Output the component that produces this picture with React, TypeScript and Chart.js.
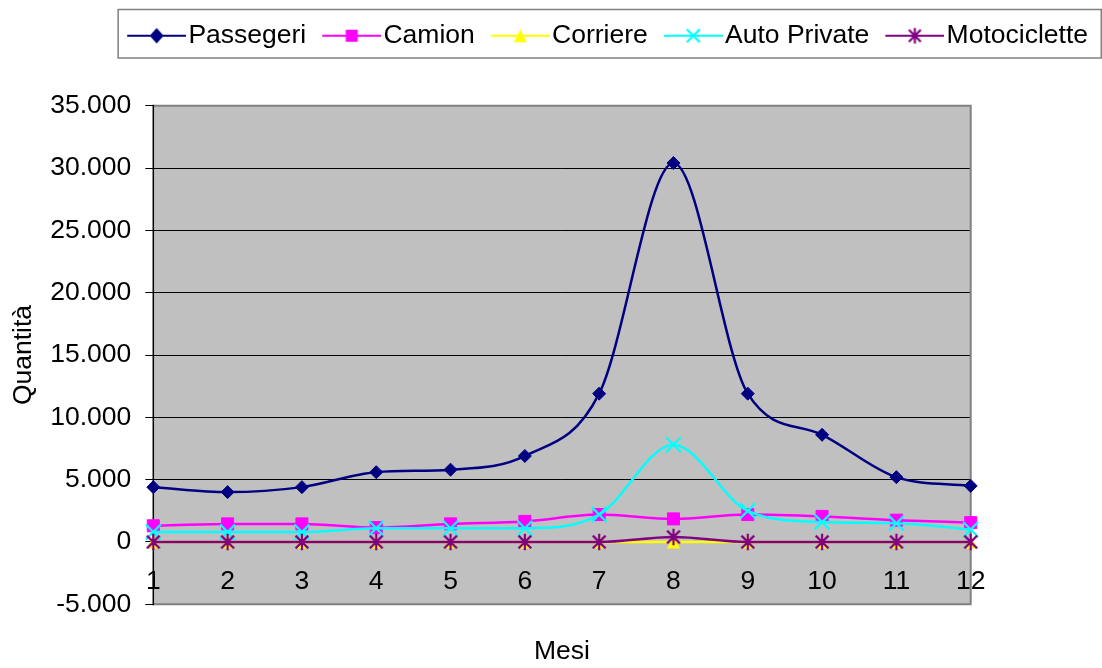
import { useEffect, useRef } from 'react';
import { Chart, registerables } from 'chart.js';

Chart.register(...registerables);

// Monthly traffic counts
const months = ['1', '2', '3', '4', '5', '6', '7', '8', '9', '10', '11', '12'];
const passegeri = [4400, 4000, 4400, 5600, 5800, 6900, 11900, 30400, 11900, 8600, 5200, 4500];
const camion = [1300, 1450, 1450, 1150, 1450, 1650, 2200, 1850, 2200, 2050, 1750, 1550];
const corriere = [0, 0, 0, 0, 0, 0, 0, 0, 0, 0, 0, 0];
const autoPrivate = [800, 800, 800, 1100, 1100, 1100, 2200, 7800, 2500, 1600, 1500, 1000];
const motociclette = [0, 0, 0, 0, 0, 0, 0, 400, 0, 0, 0, 0];

const seriesNames = ['Passegeri', 'Camion', 'Corriere', 'Auto Private', 'Motociclette'];
const yMin = -5000;
const yMax = 35000;
const yStep = 5000;
const yTitle = 'Quantità';
const xTitle = 'Mesi';

const FONT = '"Liberation Sans", Arial, Helvetica, sans-serif';
const TEXT_SIZE = 26.5;
const LEGEND_SIZE = 26.5;

type MarkerKind = 'diamond' | 'square' | 'triangle' | 'x' | 'asterisk';

function fmtThousands(v: number): string {
  const s = Math.abs(Math.round(v)).toString().replace(/\B(?=(\d{3})+(?!\d))/g, '.');
  return (v < 0 ? '-' : '') + s;
}

function drawMarker(ctx: CanvasRenderingContext2D, kind: MarkerKind, cx: number, cy: number, s: number, color: string) {
  ctx.save();
  ctx.fillStyle = color;
  ctx.strokeStyle = color;
  ctx.lineWidth = 2.2;
  ctx.beginPath();
  switch (kind) {
    case 'diamond':
      ctx.moveTo(cx, cy - s * 1.1);
      ctx.lineTo(cx + s, cy);
      ctx.lineTo(cx, cy + s * 1.1);
      ctx.lineTo(cx - s, cy);
      ctx.closePath();
      ctx.fill();
      break;
    case 'square':
      ctx.fillRect(cx - s, cy - s, 2 * s, 2 * s);
      break;
    case 'triangle':
      ctx.moveTo(cx, cy - s);
      ctx.lineTo(cx + s, cy + s);
      ctx.lineTo(cx - s, cy + s);
      ctx.closePath();
      ctx.fill();
      break;
    case 'x':
      ctx.moveTo(cx - s, cy - s);
      ctx.lineTo(cx + s, cy + s);
      ctx.moveTo(cx + s, cy - s);
      ctx.lineTo(cx - s, cy + s);
      ctx.stroke();
      break;
    case 'asterisk': {
      const d = s * 0.85;
      ctx.moveTo(cx - d, cy - d);
      ctx.lineTo(cx + d, cy + d);
      ctx.moveTo(cx + d, cy - d);
      ctx.lineTo(cx - d, cy + d);
      ctx.moveTo(cx, cy - s * 1.1);
      ctx.lineTo(cx, cy + s * 1.1);
      ctx.stroke();
      break;
    }
  }
  ctx.restore();
}

function markerImage(kind: MarkerKind, color: string, s: number): HTMLCanvasElement {
  const c = document.createElement('canvas');
  const size = Math.ceil(2 * s * 1.2) + 4;
  c.width = size;
  c.height = size;
  const ctx = c.getContext('2d')!;
  drawMarker(ctx, kind, size / 2, size / 2, s, color);
  return c;
}

function legendSymbol(kind: MarkerKind, color: string, s: number): HTMLCanvasElement {
  const c = document.createElement('canvas');
  c.width = 72;
  c.height = 22;
  const ctx = c.getContext('2d')!;
  ctx.strokeStyle = color;
  ctx.lineWidth = 2.2;
  ctx.beginPath();
  ctx.moveTo(13, 11);
  ctx.lineTo(72, 11);
  ctx.stroke();
  drawMarker(ctx, kind, 42.5, 11, s, color);
  return c;
}

const colors = ['#000080', '#FF00FF', '#FFFF00', '#00FFFF', '#800080'];
const legendKinds: MarkerKind[] = ['diamond', 'square', 'triangle', 'x', 'asterisk'];
const legendSizes = [7, 6, 6.5, 6.5, 7];

const plotFrame = {
  id: 'plotFrame',
  beforeDraw(chart: any) {
    const { ctx, chartArea: a } = chart;
    ctx.save();
    ctx.fillStyle = '#C0C0C0';
    ctx.fillRect(a.left, a.top, a.right - a.left, a.bottom - a.top);
    ctx.restore();
  },
  beforeDatasetsDraw(chart: any) {
    const { ctx, chartArea: a } = chart;
    ctx.save();
    ctx.strokeStyle = '#808080';
    ctx.lineWidth = 2;
    ctx.beginPath();
    ctx.moveTo(a.left, a.top);
    ctx.lineTo(a.right, a.top);
    ctx.lineTo(a.right, a.bottom);
    ctx.lineTo(a.left, a.bottom);
    ctx.stroke();
    ctx.strokeStyle = '#000';
    ctx.lineWidth = 1.5;
    ctx.beginPath();
    ctx.moveTo(a.left, a.top - 1);
    ctx.lineTo(a.left, a.bottom + 1);
    ctx.stroke();
    ctx.restore();
  },
  afterDraw(chart: any) {
    const lg = chart.legend;
    if (!lg || !lg.legendHitBoxes || !lg.legendHitBoxes.length) return;
    const { ctx } = chart;
    const left = lg.legendHitBoxes[0].left - 7;
    ctx.save();
    ctx.strokeStyle = '#808080';
    ctx.lineWidth = 1.5;
    ctx.strokeRect(left, 9.5, chart.width - 0.75 - left, 48.5);
    ctx.restore();
  },
};

export default function App() {
  const canvasRef = useRef<HTMLCanvasElement | null>(null);

  useEffect(() => {
    const canvas = canvasRef.current;
    if (!canvas) return;
    Chart.defaults.font.family = FONT;

    const font = { family: FONT, size: TEXT_SIZE };
    const triangleImg = markerImage('triangle', colors[2], 6.5);
    const asteriskImg = markerImage('asterisk', colors[4], 7.5);
    const legendItems = seriesNames.map((name, i) => ({
      text: name,
      pointStyle: legendSymbol(legendKinds[i], colors[i], legendSizes[i]),
      fillStyle: colors[i],
      strokeStyle: colors[i],
      lineWidth: 0,
      hidden: false,
      datasetIndex: i,
      fontColor: '#000',
    }));

    const common = {
      borderWidth: 2.5,
      cubicInterpolationMode: 'monotone',
      clip: false,
      pointBorderWidth: 1,
    };

    const chart = new Chart(canvas, {
      type: 'line',
      data: {
        labels: months,
        datasets: [
          {
            ...common,
            label: seriesNames[0],
            data: passegeri,
            borderColor: colors[0],
            backgroundColor: colors[0],
            pointStyle: 'rectRot',
            pointRadius: 6.5,
            pointBackgroundColor: colors[0],
            pointBorderColor: colors[0],
            order: 5,
          },
          {
            ...common,
            label: seriesNames[1],
            data: camion,
            borderColor: colors[1],
            backgroundColor: colors[1],
            pointStyle: 'rect',
            pointRadius: 8.5,
            pointBackgroundColor: colors[1],
            pointBorderColor: colors[1],
            order: 4,
          },
          {
            ...common,
            label: seriesNames[2],
            data: corriere,
            borderColor: colors[2],
            backgroundColor: colors[2],
            pointStyle: triangleImg,
            pointRadius: 6,
            order: 3,
          },
          {
            ...common,
            label: seriesNames[3],
            data: autoPrivate,
            borderColor: colors[3],
            backgroundColor: colors[3],
            pointStyle: 'crossRot',
            pointRadius: 10.5,
            pointBorderWidth: 2.2,
            pointBorderColor: colors[3],
            order: 2,
          },
          {
            ...common,
            label: seriesNames[4],
            data: motociclette,
            borderColor: colors[4],
            backgroundColor: colors[4],
            pointStyle: asteriskImg,
            pointRadius: 6,
            order: 1,
          },
        ],
      },
      options: {
        responsive: false,
        maintainAspectRatio: false,
        animation: false,
        events: [],
        devicePixelRatio: 1,
        layout: { padding: { top: 8.45, left: 0, right: 0, bottom: 0 } },
        plugins: {
          legend: {
            display: true,
            position: 'top',
            align: 'end',
            labels: {
              usePointStyle: true,
              pointStyleWidth: 50,
              padding: 14,
              color: '#000',
              font: { family: FONT, size: LEGEND_SIZE },
              generateLabels: () => legendItems,
            },
          },
          tooltip: { enabled: false },
          title: { display: false },
        },
        scales: {
          x: {
            type: 'category',
            position: { y: 0 },
            offset: false,
            grid: { display: false, drawTicks: false },
            border: { display: true, color: '#000', width: 1 },
            ticks: { color: '#000', font, padding: 23.5, maxRotation: 0, autoSkip: false },
          },
          y: {
            type: 'linear',
            position: 'left',
            min: yMin,
            max: yMax,
            ticks: {
              stepSize: yStep,
              color: '#000',
              font,
              padding: 14,
              callback: (v: any) => fmtThousands(Number(v)),
            },
            grid: { color: '#000', lineWidth: 1, tickLength: 8, drawTicks: true },
            border: { display: false },
            title: { display: true, text: yTitle, color: '#000', font, padding: { top: 7.7, bottom: 0 } },
            afterFit: (s: any) => {
              s.width = 153.3;
            },
          },
          xTop: {
            type: 'category',
            axis: 'x',
            position: 'top',
            grid: { display: false, drawTicks: false },
            border: { display: false },
            ticks: { display: false },
            afterFit: (s: any) => {
              s.height = 46.75;
            },
          },
          xBottom: {
            type: 'category',
            axis: 'x',
            position: 'bottom',
            grid: { display: false, drawTicks: false },
            border: { display: false },
            ticks: { display: false },
            title: { display: true, text: xTitle, color: '#000', font, padding: { top: 0, bottom: 0.4 } },
            afterFit: (s: any) => {
              s.height = 63.7;
            },
          },
          yRight: {
            type: 'linear',
            axis: 'y',
            position: 'right',
            grid: { display: false, drawTicks: false },
            border: { display: false },
            ticks: { display: false },
            afterFit: (s: any) => {
              s.width = 131.3;
            },
          },
        },
      } as any,
      plugins: [plotFrame],
    } as any);

    return () => chart.destroy();
  }, []);

  return (
    <div style={{ position: 'fixed', left: 0, top: 0, width: 1102, height: 668, background: '#fff' }}>
      <canvas ref={canvasRef} width={1102} height={668} style={{ display: 'block', width: 1102, height: 668 }} />
    </div>
  );
}
